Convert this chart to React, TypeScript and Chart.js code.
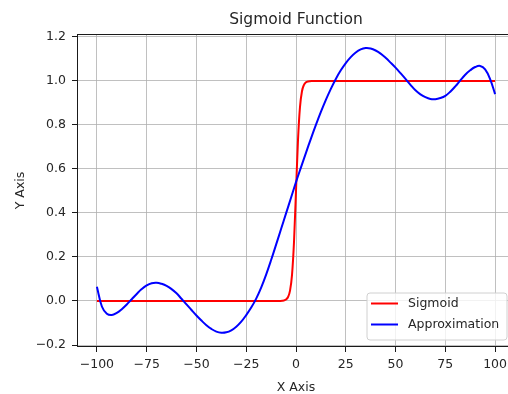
import React, { useEffect, useRef } from "react";
import { Chart, registerables } from "chart.js";

Chart.register(...registerables);

const CHART_TITLE = "Sigmoid Function";
const X_LABEL = "X Axis";
const Y_LABEL = "Y Axis";

const SIGMOID_LABEL = "Sigmoid";
const SIGMOID_X = [-100, -10, -8, -6, -5, -4, -3, -2, -1, 0, 1, 2, 3, 4, 5, 6, 8, 10, 100];
const SIGMOID_Y = [0, 0.00005, 0.0003, 0.0025, 0.0067, 0.018, 0.047, 0.119, 0.269, 0.5, 0.731, 0.881, 0.953, 0.982, 0.9933, 0.9975, 0.9997, 0.99995, 1];

const APPROX_LABEL = "Approximation";
const APPROX_X = [
  -100, -97.5, -95, -92.5, -90, -87.5, -85, -82.5, -80, -77.5, -75, -72.5, -70, -67.5, -65, -62.5, -60, -57.5, -55,
  -52.5, -50, -47.5, -45, -42.5, -40, -37.5, -35, -32.5, -30, -27.5, -25, -22.5, -20, -17.5, -15, -12.5, -10, -7.5,
  -5, -2.5, 0, 2.5, 5, 7.5, 10, 12.5, 15, 17.5, 20, 22.5, 25, 27.5, 30, 32.5, 35, 37.5, 40, 42.5, 45, 47.5, 50, 52.5,
  55, 57.5, 60, 62.5, 65, 67.5, 70, 72.5, 75, 77.5, 80, 82.5, 85, 87.5, 90, 92.5, 95, 97.5, 100,
];
const APPROX_Y = [
  0.065, -0.025, -0.058, -0.064, -0.054, -0.037, -0.016, 0.008, 0.032, 0.054, 0.071, 0.081, 0.083, 0.078, 0.069,
  0.054, 0.035, 0.01, -0.015, -0.041, -0.066, -0.089, -0.11, -0.127, -0.139, -0.144, -0.142, -0.133, -0.117, -0.094,
  -0.064, -0.03, 0.011, 0.061, 0.12, 0.186, 0.256, 0.327, 0.398, 0.469, 0.54, 0.607, 0.673, 0.738, 0.8, 0.859, 0.914,
  0.964, 1.009, 1.048, 1.081, 1.108, 1.129, 1.143, 1.149, 1.147, 1.138, 1.124, 1.105, 1.083, 1.06, 1.035, 1.009,
  0.982, 0.957, 0.939, 0.926, 0.918, 0.917, 0.922, 0.932, 0.951, 0.975, 1.002, 1.028, 1.048, 1.063, 1.068, 1.052,
  1.008, 0.94,
];

const X_TICKS = [-100, -75, -50, -25, 0, 25, 50, 75, 100];
const Y_TICKS = [-0.2, 0, 0.2, 0.4, 0.6, 0.8, 1.0, 1.2];

const FONT = "DejaVu Sans";
const TEXT_COLOR = "#262626";
const SPINE_COLOR = "#1a1a1a";

export default function App() {
  const ref = useRef<HTMLCanvasElement | null>(null);

  useEffect(() => {
    document.body.style.margin = "0";
    const canvas = ref.current;
    if (!canvas) return;

    const framePlugin = {
      id: "frameAndLegend",
      afterDraw(chart: any) {
        const { ctx, chartArea } = chart;
        const { left, right, top, bottom } = chartArea;
        ctx.save();
        ctx.strokeStyle = SPINE_COLOR;
        ctx.lineWidth = 1;
        ctx.strokeRect(Math.round(left) + 0.5, Math.round(top) + 0.5, Math.round(right - left) - 1, Math.round(bottom - top) - 1);

        // legend (lower right)
        const items = chart.data.datasets.map((d: any) => ({ label: d.label, color: d.borderColor }));
        const bx = 367, by = 293, bw = 140, bh = 47, r = 3;
        ctx.beginPath();
        ctx.moveTo(bx + r, by);
        ctx.lineTo(bx + bw - r, by);
        ctx.arcTo(bx + bw, by, bx + bw, by + r, r);
        ctx.lineTo(bx + bw, by + bh - r);
        ctx.arcTo(bx + bw, by + bh, bx + bw - r, by + bh, r);
        ctx.lineTo(bx + r, by + bh);
        ctx.arcTo(bx, by + bh, bx, by + bh - r, r);
        ctx.lineTo(bx, by + r);
        ctx.arcTo(bx, by, bx + r, by, r);
        ctx.closePath();
        ctx.fillStyle = "rgba(255,255,255,0.8)";
        ctx.fill();
        ctx.strokeStyle = "#d0d0d0";
        ctx.lineWidth = 1;
        ctx.stroke();

        ctx.font = `12.5px "${FONT}"`;
        ctx.textBaseline = "middle";
        ctx.textAlign = "left";
        items.forEach((it: any, i: number) => {
          const y = by + 10.5 + i * 21;
          ctx.strokeStyle = it.color;
          ctx.lineWidth = 2;
          ctx.beginPath();
          ctx.moveTo(371, y);
          ctx.lineTo(398, y);
          ctx.stroke();
          ctx.fillStyle = TEXT_COLOR;
          ctx.fillText(it.label, 408, y + 0.5);
        });
        ctx.restore();
      },
    };

    const chart = new Chart(canvas, {
      type: "line",
      data: {
        datasets: [
          {
            label: SIGMOID_LABEL,
            data: SIGMOID_X.map((x, i) => ({ x, y: SIGMOID_Y[i] })),
            borderColor: "#ff0000",
            borderWidth: 2,
            pointRadius: 0,
            cubicInterpolationMode: "monotone",
            fill: false,
            order: 1,
          },
          {
            label: APPROX_LABEL,
            data: APPROX_X.map((x, i) => ({ x, y: APPROX_Y[i] })),
            borderColor: "#0000ff",
            borderWidth: 2,
            pointRadius: 0,
            tension: 0.4,
            fill: false,
            order: 0,
          },
        ],
      },
      options: {
        animation: false,
        responsive: false,
        devicePixelRatio: 1,
        layout: { padding: { left: 0, right: 1, top: 0, bottom: 0 } },
        plugins: {
          legend: { display: false },
          tooltip: { enabled: false },
          title: {
            display: true,
            text: CHART_TITLE,
            fullSize: false,
            color: TEXT_COLOR,
            font: { family: FONT, size: 15.5, weight: "normal", lineHeight: "18px" },
            padding: { top: 11, bottom: 5 },
          },
        },
        scales: {
          x: {
            type: "linear",
            min: -110,
            max: 110,
            afterBuildTicks: (scale: any) => {
              scale.ticks = X_TICKS.map((v) => ({ value: v }));
            },
            afterFit: (scale: any) => {
              scale.height = 47;
            },
            ticks: {
              color: TEXT_COLOR,
              font: { family: FONT, size: 12.5 },
              padding: 5,
              maxRotation: 0,
              autoSkip: false,
              callback: (v: any) => String(v).replace("-", "\u2212"),
            },
            grid: { color: "#b0b0b0", lineWidth: 0.8, tickLength: 5, tickColor: SPINE_COLOR, tickWidth: 1 },
            border: { display: false },
            title: {
              display: true,
              text: X_LABEL,
              color: TEXT_COLOR,
              font: { family: FONT, size: 12.5 },
              padding: { top: 0, bottom: -1 },
            },
          },
          y: {
            type: "linear",
            min: -0.209,
            max: 1.213,
            afterBuildTicks: (scale: any) => {
              scale.ticks = Y_TICKS.map((v) => ({ value: v }));
            },
            afterFit: (scale: any) => {
              scale.width = 77;
            },
            ticks: {
              color: TEXT_COLOR,
              font: { family: FONT, size: 12.5 },
              padding: 6,
              autoSkip: false,
              callback: (v: any) => Number(v).toFixed(1).replace("-", "\u2212"),
            },
            grid: { color: "#b0b0b0", lineWidth: 0.8, tickLength: 5, tickColor: SPINE_COLOR, tickWidth: 1 },
            border: { display: false },
            title: {
              display: true,
              text: Y_LABEL,
              color: TEXT_COLOR,
              font: { family: FONT, size: 12.5 },
              padding: { top: 13, bottom: 0 },
            },
          },
        },
      },
      plugins: [framePlugin],
    });

    return () => chart.destroy();
  }, []);

  return (
    <div style={{ width: 508, height: 394, overflow: "hidden", position: "relative" }}>
      <canvas ref={ref} width={516} height={394} style={{ display: "block", width: 516, height: 394 }} />
    </div>
  );
}
